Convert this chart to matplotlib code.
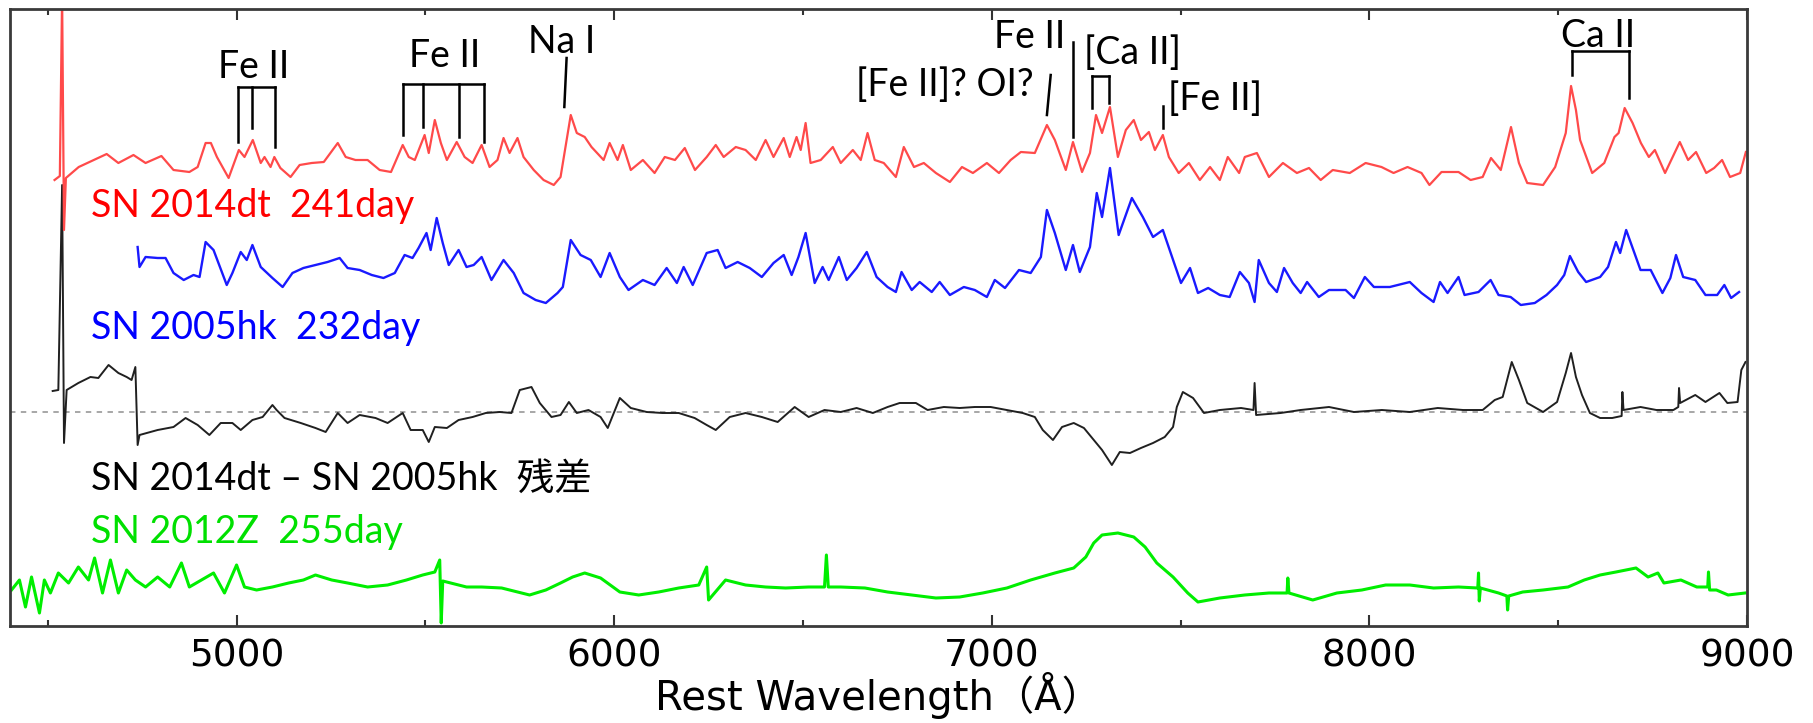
import numpy as np
import matplotlib.pyplot as plt

# 波長 (Å) とフラックス (任意単位, 表示用オフセット込み)
red_wave = [4518, 4532, 4538, 4543, 4548,
            4582, 4656, 4687, 4727, 4759, 4801, 4833, 4875, 4897, 4918,
            4932, 4948, 4979, 5006, 5021, 5043, 5064, 5074, 5090, 5100,
            5116, 5143, 5167, 5199, 5231, 5268, 5289, 5315, 5347, 5379,
            5409, 5440, 5456, 5472, 5498, 5509, 5525, 5541, 5557, 5583,
            5604, 5625, 5649, 5670, 5691, 5707, 5723, 5744, 5760, 5787,
            5813, 5840, 5858, 5885, 5901, 5922,
            5940, 5972, 5988, 6009, 6023, 6044, 6076, 6107, 6134, 6161,
            6187, 6214, 6245, 6269, 6290, 6322, 6348, 6375, 6401, 6422,
            6449, 6465, 6483, 6494, 6507, 6520, 6547, 6579, 6600, 6632,
            6653, 6671, 6690, 6714, 6746, 6767, 6794, 6820, 6852, 6889,
            6921, 6950, 6987, 7019, 7050, 7077, 7114, 7146, 7167, 7196,
            7215, 7239, 7260, 7276, 7292, 7313, 7334, 7355, 7376, 7395,
            7416, 7432, 7453, 7469, 7495, 7522,
            7551, 7578, 7604, 7625, 7655, 7670, 7702, 7734, 7771, 7808,
            7840, 7871, 7903, 7948, 7990, 8032, 8064, 8101, 8138, 8159,
            8191, 8236, 8268, 8300, 8322, 8348, 8375, 8396, 8418, 8460,
            8492, 8520, 8534, 8547, 8558, 8590, 8622, 8649, 8660, 8676,
            8697, 8719, 8740, 8756, 8783, 8822, 8844, 8865, 8892, 8913,
            8934, 8955, 8982, 8997]
red_flux = [44.6, 45.0, 63.0, 39.6, 44.8,
            45.9, 47.2, 46.3, 47.1, 46.3, 47.0, 45.6, 45.4, 45.9, 48.3,
            48.3, 46.9, 44.8, 47.6, 46.9, 48.6, 46.3, 46.9, 45.9, 46.9,
            45.8, 44.9, 46.1, 46.3, 46.4, 48.3, 46.9, 46.6, 46.6, 45.6,
            45.4, 48.1, 46.9, 46.6, 49.1, 47.3, 50.6, 48.3, 46.6, 48.4,
            46.9, 46.3, 48.1, 45.9, 46.6, 48.8, 47.3, 48.8, 46.9, 45.6,
            44.6, 44.1, 44.9, 51.1, 49.3, 48.9,
            47.9, 46.6, 48.3, 46.6, 48.1, 45.6, 46.6, 45.3, 46.9, 46.6,
            47.8, 45.6, 46.9, 48.1, 46.9, 47.9, 47.6, 46.6, 48.6, 46.9,
            48.8, 46.9, 48.9, 47.6, 50.3, 46.3, 46.6, 47.9, 46.3, 47.6,
            46.6, 49.3, 46.6, 46.3, 44.9, 47.9, 45.9, 46.3, 45.3, 44.4,
            45.9, 45.3, 46.3, 45.3, 46.6, 47.4, 47.3, 50.1, 48.6, 45.6,
            48.4, 45.4, 47.3, 51.1, 49.3, 51.9, 46.9, 49.6, 50.6, 48.6,
            49.4, 47.6, 49.1, 46.9, 45.3, 46.3,
            44.6, 45.9, 44.6, 46.9, 45.3, 46.9, 47.3, 44.9, 46.3, 45.3,
            45.8, 44.6, 45.6, 45.3, 46.3, 45.9, 45.3, 45.9, 45.3, 44.1,
            45.4, 45.4, 44.6, 44.9, 46.8, 45.6, 49.9, 46.3, 44.3, 44.1,
            45.9, 49.3, 54.0, 51.6, 48.6, 45.3, 46.3, 48.9, 49.3, 51.8,
            50.3, 48.3, 46.9, 47.6, 45.3, 48.4, 46.6, 47.4, 45.3, 45.8,
            46.6, 44.9, 45.3, 47.4]

blue_wave = [4738, 4743, 4759, 4791, 4812, 4833, 4860, 4886, 4902, 4918,
             4939, 4952, 4974, 4989, 5011, 5027, 5042, 5064, 5095, 5122,
             5148, 5177, 5209, 5241, 5273, 5294, 5326, 5358, 5389, 5419,
             5445, 5466, 5482, 5503, 5514, 5530, 5546, 5562, 5588, 5609,
             5628, 5649, 5675, 5707, 5734, 5760, 5792, 5819, 5850, 5864,
             5885, 5911, 5938, 5964, 5988, 6015, 6038, 6076, 6107, 6139,
             6166, 6184, 6208, 6245, 6274, 6295, 6327, 6359, 6391, 6422,
             6449, 6470, 6488, 6507, 6531, 6552, 6568, 6595, 6616, 6642,
             6669, 6695, 6724, 6746, 6761, 6788, 6809, 6841, 6862, 6889,
             6926, 6955, 6987, 7008, 7035, 7072, 7103, 7130, 7146, 7167,
             7196, 7215, 7233, 7260, 7278, 7292, 7313, 7336, 7371, 7400,
             7427, 7453, 7480, 7501, 7525, 7546, 7573, 7604, 7630, 7657,
             7681, 7696, 7707, 7734, 7755, 7774, 7797, 7818, 7835, 7866,
             7893, 7937, 7959, 7988, 8012, 8054, 8107, 8138, 8170, 8187,
             8207, 8236, 8252, 8289, 8321, 8342, 8374, 8401, 8438, 8469,
             8497, 8516, 8531, 8553, 8574, 8611, 8632, 8653, 8664, 8680,
             8701, 8718, 8745, 8776, 8797, 8812, 8831, 8863, 8890, 8921,
             8940, 8958, 8979]
blue_flux = [37.9, 35.9, 36.9, 36.8, 36.8, 35.3, 34.6, 35.1, 34.9, 38.4,
             37.6, 36.3, 34.1, 35.3, 37.4, 36.6, 38.1, 35.9, 34.8, 33.9,
             35.3, 35.8, 36.1, 36.4, 36.8, 35.8, 35.6, 35.1, 34.8, 35.3,
             37.1, 36.8, 37.8, 39.3, 37.6, 40.8, 38.3, 36.1, 37.6, 35.9,
             36.1, 36.9, 34.6, 36.6, 35.3, 33.3, 32.6, 32.3, 33.3, 33.9,
             38.6, 37.1, 36.6, 34.9, 37.3, 34.9, 33.6, 34.6, 34.1, 35.8,
             34.3, 35.9, 34.1, 37.3, 37.6, 35.8, 36.4, 35.8, 34.9, 36.3,
             37.1, 35.1, 36.9, 39.3, 34.3, 35.9, 34.6, 36.9, 34.6, 35.8,
             37.4, 34.9, 33.9, 33.4, 35.4, 33.6, 34.4, 33.4, 34.4, 33.1,
             33.9, 33.6, 32.9, 34.6, 33.8, 35.6, 35.3, 36.9, 41.6, 39.3,
             35.6, 38.1, 35.4, 37.9, 43.3, 40.9, 45.8, 39.1, 42.8, 40.9,
             38.9, 39.6, 36.6, 34.3, 35.8, 33.3, 33.8, 33.1, 32.9, 35.4,
             34.3, 32.4, 36.6, 34.3, 33.4, 35.8, 34.3, 33.3, 34.4, 32.9,
             33.6, 33.6, 32.8, 34.9, 33.9, 33.9, 34.4, 33.3, 32.4, 34.4,
             33.3, 34.9, 33.1, 33.4, 34.6, 33.1, 32.9, 32.1, 32.3, 33.1,
             34.1, 35.1, 37.0, 35.4, 34.4, 34.9, 35.9, 38.4, 37.3, 39.6,
             37.4, 35.6, 35.6, 33.3, 34.8, 37.1, 34.9, 34.6, 33.1, 33.1,
             34.1, 32.8, 33.4]

# 残差 (SN 2014dt - SN 2005hk)
resid_wave = [4513, 4528, 4538, 4543, 4550, 4581, 4613, 4634, 4661, 4687,
              4709, 4722, 4732, 4738, 4743, 4791, 4833, 4865, 4897, 4928,
              4958, 4989, 5011, 5042, 5069, 5095, 5106, 5127, 5170, 5209,
              5236, 5268, 5294, 5326, 5368, 5400, 5440, 5461, 5493, 5509,
              5525, 5557, 5588, 5625, 5660, 5697, 5728, 5750, 5781, 5803,
              5834, 5858, 5880, 5901, 5932, 5964, 5983, 6015, 6044, 6086,
              6128, 6171, 6213, 6245, 6269, 6306, 6348, 6391, 6433, 6478,
              6515, 6557, 6600, 6642, 6685, 6724, 6756, 6799, 6830, 6873,
              6915, 6955, 6997, 7040, 7082, 7114, 7135, 7162, 7186, 7217,
              7244, 7270, 7292, 7318, 7339, 7366, 7395, 7427, 7458, 7480,
              7490, 7506, 7533, 7562, 7604, 7660, 7693, 7696, 7700, 7765,
              7818, 7893, 7959, 8033, 8107, 8181, 8248, 8300, 8332, 8353,
              8377, 8396, 8418, 8460, 8497, 8520, 8534, 8547, 8563, 8584,
              8611, 8643, 8668, 8670, 8673, 8718, 8760, 8805, 8818, 8820,
              8823, 8863, 8890, 8927, 8948, 8975, 8985, 8996]
resid_flux = [23.5, 23.6, 44.1, 18.3, 23.6, 24.3, 24.9, 24.8, 26.1, 25.3,
              24.9, 24.6, 25.9, 18.1, 19.1, 19.6, 19.9, 20.8, 20.1, 19.1,
              20.3, 20.3, 19.6, 20.6, 20.9, 22.1, 21.6, 20.8, 20.3, 19.8,
              19.4, 21.3, 20.3, 21.1, 20.8, 20.3, 21.3, 19.6, 19.6, 18.4,
              19.9, 19.8, 20.6, 20.9, 21.3, 21.4, 21.3, 23.6, 23.9, 22.3,
              20.9, 21.1, 22.4, 21.3, 21.6, 20.9, 19.8, 22.8, 21.8, 21.4,
              21.3, 21.3, 20.8, 20.1, 19.6, 20.9, 21.3, 20.9, 20.4, 21.9,
              20.9, 21.6, 21.4, 21.8, 21.3, 21.9, 22.3, 22.3, 21.6, 21.9,
              21.8, 21.9, 21.9, 21.6, 21.3, 20.9, 19.6, 18.6, 19.9, 20.3,
              19.8, 18.6, 17.6, 16.1, 17.4, 17.3, 17.8, 18.3, 18.9, 19.9,
              21.9, 23.4, 22.8, 21.3, 21.6, 21.8, 21.6, 24.3, 21.1, 21.3,
              21.6, 21.9, 21.4, 21.6, 21.4, 21.8, 21.6, 21.6, 22.6, 22.9,
              26.4, 24.6, 22.3, 21.4, 22.4, 25.3, 27.3, 24.9, 23.1, 21.3,
              20.8, 20.8, 21.0, 23.4, 21.6, 21.9, 21.6, 21.6, 21.9, 23.8,
              22.3, 23.1, 22.4, 23.3, 22.3, 22.4, 25.6, 26.4]
resid_zero = 21.4

green_wave = [4404, 4425, 4441, 4457, 4478, 4491, 4507, 4528, 4555, 4581,
              4608, 4624, 4645, 4666, 4687, 4709, 4732, 4759, 4791, 4823,
              4854, 4875, 4907, 4939, 4968, 5000, 5021, 5053, 5095, 5138,
              5177, 5209, 5252, 5294, 5347, 5400, 5450, 5493, 5525, 5538,
              5542, 5546, 5567, 5609, 5649, 5702, 5744, 5776, 5819, 5858,
              5890, 5922, 5964, 6015, 6065, 6118, 6171, 6224, 6245, 6250,
              6295, 6348, 6401, 6454, 6515, 6557, 6562, 6567, 6600, 6664,
              6724, 6788, 6852, 6915, 6976, 7040, 7103, 7167, 7217, 7249,
              7270, 7292, 7334, 7376, 7406, 7437, 7480, 7519, 7546, 7604,
              7670, 7734, 7782, 7784, 7787, 7850, 7914, 7980, 8043, 8107,
              8170, 8236, 8287, 8289, 8291, 8294, 8342, 8364, 8366, 8369,
              8406, 8460, 8526, 8569, 8611, 8653, 8706, 8738, 8764, 8780,
              8825, 8867, 8896, 8898, 8901, 8919, 8950, 8995]
green_flux = [3.6, 4.6, 1.9, 4.9, 1.3, 4.6, 3.3, 5.3, 4.3, 5.9,
              4.6, 6.8, 3.3, 6.6, 3.3, 5.6, 4.6, 3.9, 4.9, 3.9,
              6.3, 3.9, 4.6, 5.3, 3.3, 6.1, 3.9, 3.6, 3.9, 4.3,
              4.6, 5.1, 4.6, 4.3, 3.9, 4.1, 4.6, 5.1, 5.4, 6.6,
              0.3, 4.5, 4.3, 3.9, 3.9, 3.8, 3.4, 3.1, 3.6, 4.3,
              4.9, 5.3, 4.8, 3.4, 3.1, 3.4, 3.8, 4.1, 5.9, 2.6,
              4.6, 4.1, 3.9, 3.8, 3.9, 3.9, 7.1, 3.9, 3.9, 3.8,
              3.4, 3.1, 2.8, 2.9, 3.3, 3.8, 4.6, 5.3, 5.8, 6.9,
              8.3, 9.1, 9.3, 8.9, 7.9, 6.3, 4.9, 3.3, 2.4, 2.8,
              3.1, 3.3, 3.3, 4.8, 3.3, 2.6, 3.3, 3.6, 4.1, 4.1,
              3.8, 3.9, 3.8, 5.3, 2.5, 3.8, 3.3, 3.0, 1.6, 3.0,
              3.4, 3.6, 3.9, 4.6, 5.1, 5.4, 5.8, 4.9, 5.3, 4.3,
              4.6, 3.9, 3.9, 5.4, 3.6, 3.6, 3.1, 3.3]

# 線の同定 (波長, 縦線の下端)
fe2_a_wave = [5003, 5042, 5103]
fe2_a_bottom = [48.4, 49.8, 47.9]
fe2_b_wave = [5442, 5493, 5589, 5654]
fe2_b_bottom = [49.1, 49.9, 48.9, 48.4]
ca2f_wave = [7266, 7310]
ca2f_bottom = [51.8, 52.3]
ca2_wave = [8536, 8688]
ca2_bottom = [55.1, 52.8]

label_font = ['Lato', 'Noto Sans CJK JP', 'DejaVu Sans']
plt.rcParams['font.family'] = label_font

fig = plt.figure(figsize=(18.13, 7.23), dpi=100)
ax = fig.add_axes([10 / 1813, 1 - 626 / 723, 1737 / 1813, 617 / 723])

ax.plot(green_wave, green_flux, color='#00ee00', lw=2.2)
ax.axhline(resid_zero, color='#a0a0a0', lw=1.3, ls=(0, (3, 3)))
ax.plot(resid_wave, resid_flux, color='#202020', lw=1.4)
ax.plot(blue_wave, blue_flux, color='#1a1aff', lw=1.7)
ax.plot(red_wave, red_flux, color='#ff4a4a', lw=1.6)


def bracket(waves, bottoms, top):
    ax.plot([waves[0], waves[-1]], [top, top], color='k', lw=1.8)
    for w, b in zip(waves, bottoms):
        ax.plot([w, w], [top, b], color='k', lw=1.8)


bracket(fe2_a_wave, fe2_a_bottom, 53.9)
bracket(fe2_b_wave, fe2_b_bottom, 54.2)
bracket(ca2f_wave, ca2f_bottom, 55.0)
bracket(ca2_wave, ca2_bottom, 57.5)
ax.plot([5874, 5868], [56.8, 51.9], color='k', lw=1.8)   # Na I
ax.plot([7215, 7215], [58.4, 48.9], color='k', lw=1.8)   # Fe II
ax.plot([7156, 7146], [55.1, 51.1], color='k', lw=1.8)   # [Fe II]? OI?
ax.plot([7453, 7453], [52.0, 49.8], color='k', lw=1.8)   # [Fe II]

fs = 27
ax.text(5045, 54.8, 'Fe II', ha='center', va='baseline', fontsize=fs)
ax.text(5551, 55.9, 'Fe II', ha='center', va='baseline', fontsize=fs)
ax.text(5861, 57.3, 'Na I', ha='center', va='baseline', fontsize=fs)
ax.text(7101, 57.8, 'Fe II', ha='center', va='baseline', fontsize=fs)
ax.text(6876, 53.0, '[Fe II]? OI?', ha='center', va='baseline', fontsize=fs)
ax.text(7373, 56.2, '[Ca II]', ha='center', va='baseline', fontsize=fs)
ax.text(7466, 51.6, '[Fe II]', ha='left', va='baseline', fontsize=fs)
ax.text(8605, 57.9, 'Ca II', ha='center', va='baseline', fontsize=fs)

ax.text(4615, 40.9, 'SN 2014dt  241day', color='#ff0000', fontsize=fs)
ax.text(4615, 28.7, 'SN 2005hk  232day', color='#0000ff', fontsize=fs)
ax.text(4615, 13.6, 'SN 2014dt – SN 2005hk  残差', color='k', fontsize=fs)
ax.text(4615, 8.3, 'SN 2012Z  255day', color='#00e000', fontsize=fs)

ax.set_xlim(4400, 9000)
ax.set_ylim(0, 61.7)
ax.set_xticks([5000, 6000, 7000, 8000, 9000])
ax.set_xticks(np.arange(4500, 9000, 500), minor=True)
ax.set_yticks([])
ax.tick_params(axis='x', which='both', direction='in', top=True, width=1.5,
               labelsize=27, pad=9, colors='#333333', labelcolor='k')
ax.tick_params(axis='x', which='major', length=8)
ax.tick_params(axis='x', which='minor', length=4)
for lab in ax.get_xticklabels():
    lab.set_family('DejaVu Sans')
for sp in ax.spines.values():
    sp.set_color('#3a3a3a')
    sp.set_linewidth(2)

ax.set_xlabel('Rest Wavelength（Å）', fontsize=29,
              family=['DejaVu Sans', 'Noto Sans CJK JP'], va='center')
ax.xaxis.set_label_coords(0.5, -0.112)

plt.savefig('out.png', dpi=100)
